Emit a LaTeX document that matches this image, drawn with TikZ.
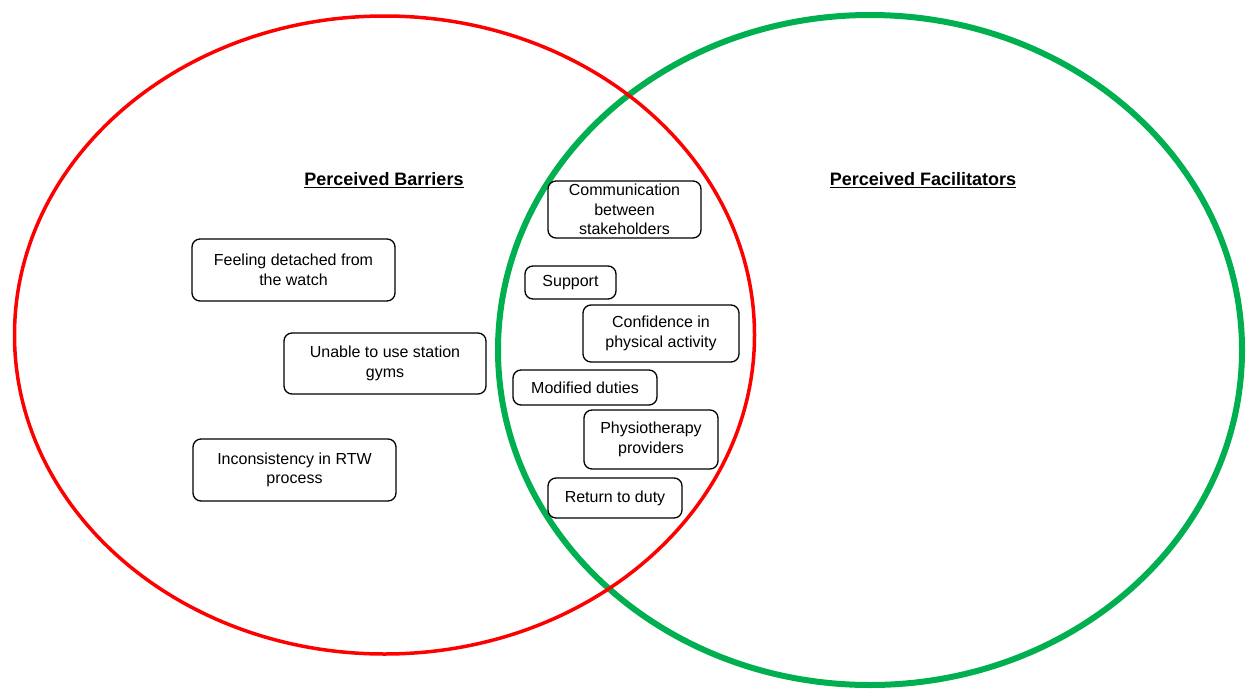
\documentclass[tikz,border=0pt]{standalone}
\usepackage{fontspec}
\setmainfont{Liberation Sans}
\usepackage{tikz}
\usetikzlibrary{positioning}
\definecolor{barred}{RGB}{255,0,0}
\definecolor{facgreen}{RGB}{0,176,80}

\tikzset{
  theme/.style={draw=black, line width=1.3pt, rounded corners=8pt, fill=white,
    align=center, inner sep=0pt, font=\fontsize{16}{19.5}\selectfont},
  heading/.style={font=\fontsize{18}{21}\selectfont\bfseries, inner sep=0pt}
}

\begin{document}
\begin{tikzpicture}[x=1pt, y=-1pt]
  \useasboundingbox (0,0) rectangle (1247,688);
  % the two circles
  \draw[facgreen, line width=6pt] (870,350) ellipse [x radius=372, y radius=335];
  \draw[barred, line width=3.5pt] (384.5,335) ellipse [x radius=370, y radius=319];
  % headings
  \node[heading] (barr) at (384,180) {\underline{Perceived Barriers}};
  \node[heading] (facil) at (923,180) {\underline{Perceived Facilitators}};
  % barriers only
  \node[theme, minimum width=203, minimum height=62] (detach) at (293.5,270) {Feeling detached from\\the watch};
  \node[theme, minimum width=202, minimum height=61] (gyms) at (385,363.5) {Unable to use station\\gyms};
  \node[theme, minimum width=203, minimum height=62] (rtw) at (294.5,470) {Inconsistency in RTW\\process};
  % overlap
  \node[theme, minimum width=153, minimum height=57] (comm) at (624.5,209.5) {Communication\\between\\stakeholders};
  \node[theme, minimum width=91, minimum height=33] (support) at (570.5,282.5) {Support};
  \node[theme, minimum width=156, minimum height=57] (confid) at (661,333.5) {Confidence in\\physical activity};
  \node[theme, minimum width=144, minimum height=35] (duties) at (585,387.5) {Modified duties};
  \node[theme, minimum width=134, minimum height=59] (physio) at (651,439.5) {Physiotherapy\\providers};
  \node[theme, minimum width=134, minimum height=40] (return) at (615,498) {Return to duty};
\end{tikzpicture}
\end{document}
